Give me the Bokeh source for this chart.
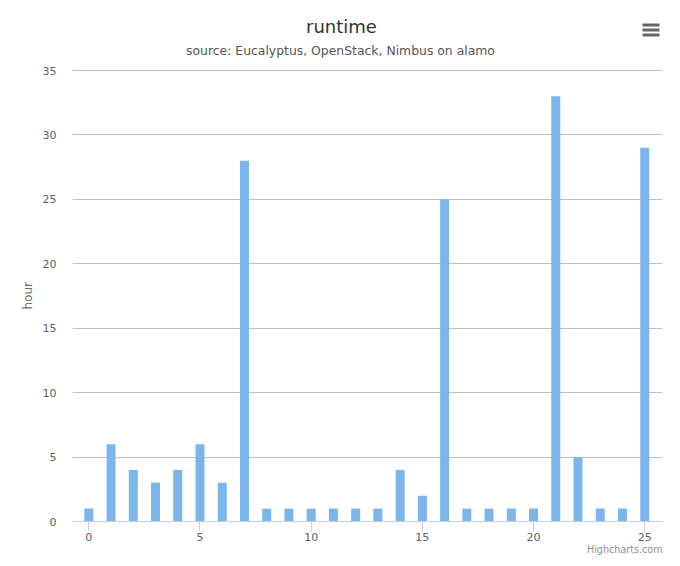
from bokeh.plotting import figure
from bokeh.models import Label, FixedTicker, BoxAnnotation, Range1d, Title
from bokeh.embed import file_html
from bokeh.resources import INLINE

# ---- data ----
runs = list(range(26))
hours = [1, 6, 4, 3, 4, 6, 3, 28, 1, 1, 1, 1, 1, 1, 4, 2, 25, 1, 1, 1, 1, 33, 5, 1, 1, 29]
x_ticks = [0, 5, 10, 15, 20, 25]
y_ticks = [0, 5, 10, 15, 20, 25, 30, 35]
title_text = "runtime"
subtitle_text = "source: Eucalyptus, OpenStack, Nimbus on alamo"
y_title = "hour"
credit_text = "Highcharts.com"

FONT = "DejaVu Sans"

# frame: x 72..662, y 0..521 (0 at 521, 35 at 70)
y_unit = 451.0 / 35.0
y_top = 35 + 70.0 / y_unit

p = figure(width=680, height=566, output_backend="svg", toolbar_location=None,
           x_range=Range1d(-0.734, 25.8), y_range=Range1d(0, y_top),
           min_border_left=72, min_border_right=18, min_border_top=0, min_border_bottom=45)
p.outline_line_color = None
p.background_fill_color = "white"
p.border_fill_color = "white"

p.vbar(x=runs, top=hours, width=0.405, fill_color="#7CB5EC", line_color=None)

# grids
p.xgrid.grid_line_color = None
p.ygrid.grid_line_color = "#C0C0C0"
p.ygrid.grid_line_width = 1
p.ygrid.ticker = FixedTicker(ticks=y_ticks)

# x axis
xa = p.xaxis[0]
xa.ticker = FixedTicker(ticks=x_ticks)
xa.axis_line_color = "#C0D0E0"
xa.major_tick_line_color = "#C0D0E0"
xa.major_tick_out = 10
xa.major_tick_in = 0
xa.minor_tick_line_color = None
xa.major_label_standoff = 1
xa.major_label_text_font = FONT
xa.major_label_text_font_size = "11px"
xa.major_label_text_color = "#606060"

# y axis
ya = p.yaxis[0]
ya.ticker = FixedTicker(ticks=y_ticks)
ya.axis_line_color = None
ya.major_tick_line_color = None
ya.minor_tick_line_color = None
ya.major_tick_out = 0
ya.major_tick_in = 0
ya.major_label_standoff = 16
ya.major_label_text_font = FONT
ya.major_label_text_font_size = "11px"
ya.major_label_text_color = "#606060"

# y axis title
p.add_layout(Title(text=y_title, align="left", offset=212, standoff=10,
                   text_font=FONT, text_font_size="12px", text_font_style="normal",
                   text_color="#707070"), "left")

# credit
p.add_layout(Title(text=credit_text, align="right", offset=0, standoff=0, vertical_align="top",
                   text_font=FONT, text_font_size="9.6px", text_font_style="normal",
                   text_color="#909090"), "below")

# titles (screen units relative to the plot frame: x from left, y up from bottom)
p.add_layout(Label(x=269, y=495, x_units="screen", y_units="screen", text=title_text,
                   text_align="center", text_baseline="alphabetic",
                   text_font=FONT, text_font_size="18px", text_color="#333333"))
p.add_layout(Label(x=268, y=471, x_units="screen", y_units="screen", text=subtitle_text,
                   text_align="center", text_baseline="alphabetic",
                   text_font=FONT, text_font_size="12.4px", text_color="#555555"))

# menu icon (three bars)
for top in (23, 28, 33):
    p.add_layout(BoxAnnotation(left=570, right=587, top=521 - top, bottom=521 - top - 3,
                               left_units="screen", right_units="screen",
                               top_units="screen", bottom_units="screen",
                               fill_color="#666666", fill_alpha=1.0, line_color=None))

open("out.html", "w").write(file_html(p, INLINE))
